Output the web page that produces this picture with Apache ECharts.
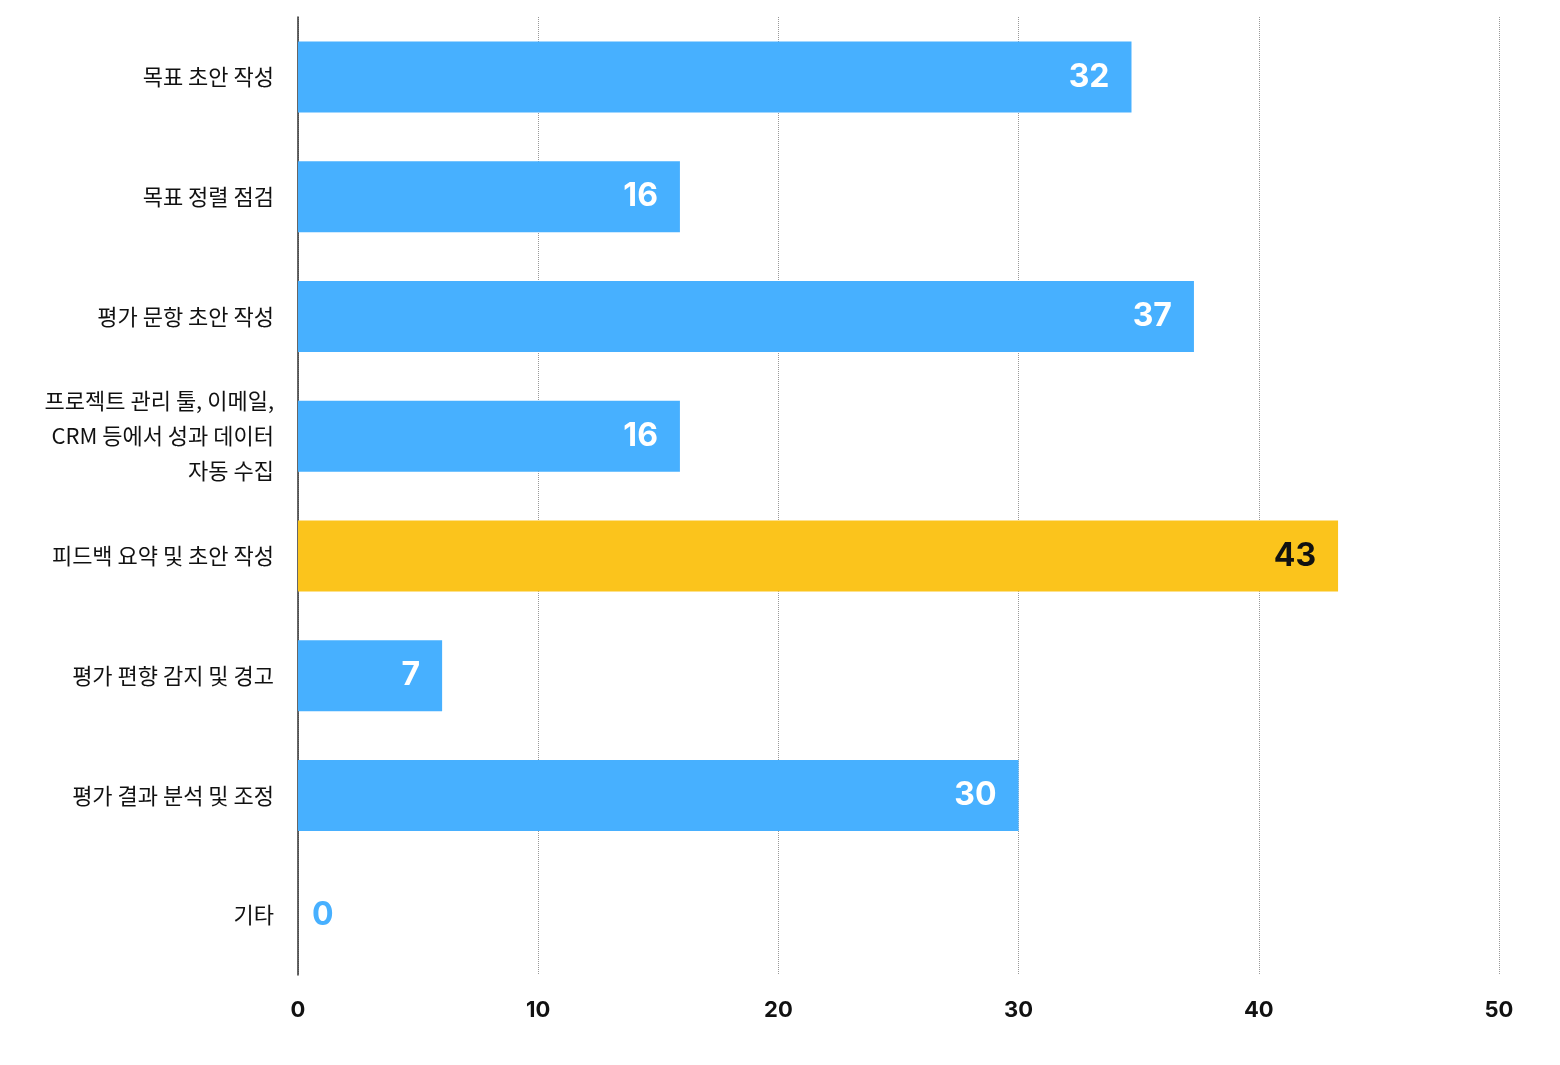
<!DOCTYPE html>
<html>
<head>
<meta charset="utf-8">
<script src="https://cdn.jsdelivr.net/npm/echarts@6/dist/echarts.min.js"></script>
<style>html,body{margin:0;padding:0;background:#fff}#main{width:1560px;height:1065px}</style>
</head>
<body>
<div id="main"></div>
<script>
var categories = ['목표 초안 작성', '목표 정렬 점검', '평가 문항 초안 작성',
	'프로젝트 관리 툴, 이메일,\nCRM 등에서 성과 데이터\n자동 수집', '피드백 요약 및 초안 작성',
	'평가 편향 감지 및 경고', '평가 결과 분석 및 조정', '기타'];
// bar lengths as drawn, and the numbers printed on them
var barValues = [34.7, 15.9, 37.3, 15.9, 43.3, 6, 30, 0];
var barLabels = [32, 16, 37, 16, 43, 7, 30, 0];
var highlight = 4;

var chart = echarts.init(document.getElementById('main'));
var data = barValues.map(function(v, i){
	var hi = i == highlight;
	var item = {
		value: v,
		itemStyle: {color: hi ? '#FBC41C' : '#47B0FF'},
		label: {
			show: true,
			position: v == 0 ? 'right' : 'insideRight',
			distance: v == 0 ? 14 : 22,
			formatter: String(barLabels[i]),
			color: v == 0 ? '#47B0FF' : (hi ? '#111' : '#fff'),
			fontSize: 32, fontWeight: 'bold', fontFamily: 'Inter'
		}
	};
	return item;
});

chart.setOption({
	animation: false,
	grid: {left: 298, right: 61, top: 17, bottom: 90},
	xAxis: {
		type: 'value', min: 0, max: 50, interval: 10,
		axisLine: {show: false}, axisTick: {show: false},
		axisLabel: {color: '#111', fontSize: 22, fontWeight: 'bold', fontFamily: 'Inter', margin: 24},
		splitLine: {show: true, lineStyle: {type: 'dotted', color: '#999', width: 1}}
	},
	yAxis: {
		type: 'category', data: categories, inverse: true,
		axisLine: {show: true, lineStyle: {color: '#333', width: 1.5}},
		axisTick: {show: false},
		axisLabel: {color: '#111', fontSize: 22, fontFamily: 'Noto Sans CJK KR', margin: 24, lineHeight: 35, align: 'right'}
	},
	series: [{type: 'bar', data: data, barWidth: 71}]
});
</script>
</body>
</html>
